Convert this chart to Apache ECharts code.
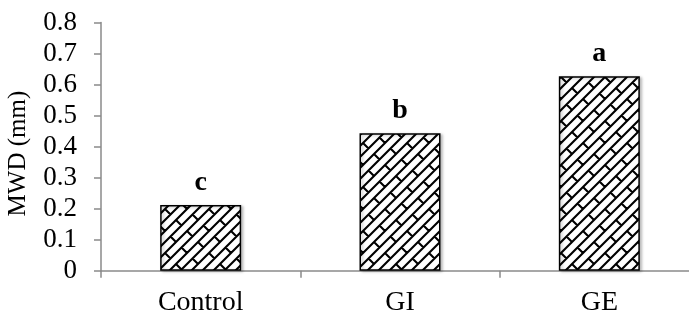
<!DOCTYPE html>
<html>
<head>
<meta charset="utf-8">
<script src="https://cdn.jsdelivr.net/npm/echarts@6/dist/echarts.min.js"></script>
<style>
html,body{margin:0;padding:0;background:#fff;}
#c{width:689px;height:323px;}
</style>
</head>
<body>
<div id="c"></div>
<script>
var categories = ['Control', 'GI', 'GE'];
var values = [0.212, 0.443, 0.627];
var letters = ['c', 'b', 'a'];
var yTicks = ['0', '0.1', '0.2', '0.3', '0.4', '0.5', '0.6', '0.7', '0.8'];

// diagonal brick fill (style only)
function makePattern() {
  var d = 11, T = 4 * d;
  var cv = document.createElement('canvas');
  cv.width = T; cv.height = T;
  var g = cv.getContext('2d');
  g.fillStyle = '#fff';
  g.fillRect(0, 0, T, T);
  g.strokeStyle = '#000';
  g.lineWidth = 2.1;
  g.beginPath();
  var c, k, m, s;
  for (c = -T; c <= 3 * T; c += d) {
    g.moveTo(c + T, -T); g.lineTo(c - 2 * T, 2 * T);
  }
  for (k = -10; k <= 14; k++) {
    for (m = -6; m <= 6; m++) {
      s = (((2 * d * k) % T) + T) % T + T * m;
      c = d * k;
      g.moveTo((c + s) / 2, (c - s) / 2);
      g.lineTo((c + d + s) / 2, (c + d - s) / 2);
    }
  }
  g.stroke();
  return cv;
}

var chart = echarts.init(document.getElementById('c'), null, {renderer: 'canvas'});
var serif = '"Liberation Serif", "Times New Roman", serif';
chart.setOption({
  animation: false,
  grid: {left: 101, right: -10, top: 22.5, bottom: 52.3, containLabel: false, outerBoundsMode: 'none'},
  xAxis: {
    type: 'category',
    data: categories,
    axisLine: {lineStyle: {color: '#8a8a8a', width: 1.5}},
    axisTick: {show: true, length: 7, lineStyle: {color: '#8a8a8a', width: 1.5}},
    axisLabel: {color: '#000', fontFamily: serif, fontSize: 28, margin: 18}
  },
  yAxis: {
    type: 'value',
    min: 0, max: 0.8, interval: 0.1,
    name: 'MWD (mm)',
    nameLocation: 'middle',
    nameGap: 70,
    nameRotate: 90,
    nameTextStyle: {color: '#000', fontFamily: serif, fontSize: 25, padding: [0, 14, 0, 0]},
    axisLine: {show: true, lineStyle: {color: '#8a8a8a', width: 1.5}},
    axisTick: {show: true, length: 7, lineStyle: {color: '#8a8a8a', width: 1.5}},
    splitLine: {show: false},
    axisLabel: {
      color: '#000', fontFamily: serif, fontSize: 27, margin: 24,
      formatter: function (v) { return yTicks[Math.round(v * 10)]; }
    }
  },
  series: [{
    type: 'bar',
    data: values,
    barWidth: 81,
    itemStyle: {
      color: {image: makePattern(), repeat: 'repeat'},
      borderColor: '#000',
      borderWidth: 1.5,
      shadowColor: 'rgba(0,0,0,0.25)',
      shadowBlur: 3,
      shadowOffsetX: 2,
      shadowOffsetY: 1
    },
    label: {
      show: true,
      position: 'top',
      distance: 8,
      color: '#000',
      fontFamily: serif,
      fontWeight: 'bold',
      fontSize: 28,
      formatter: function (p) { return letters[p.dataIndex]; }
    }
  }]
});
</script>
</body>
</html>
